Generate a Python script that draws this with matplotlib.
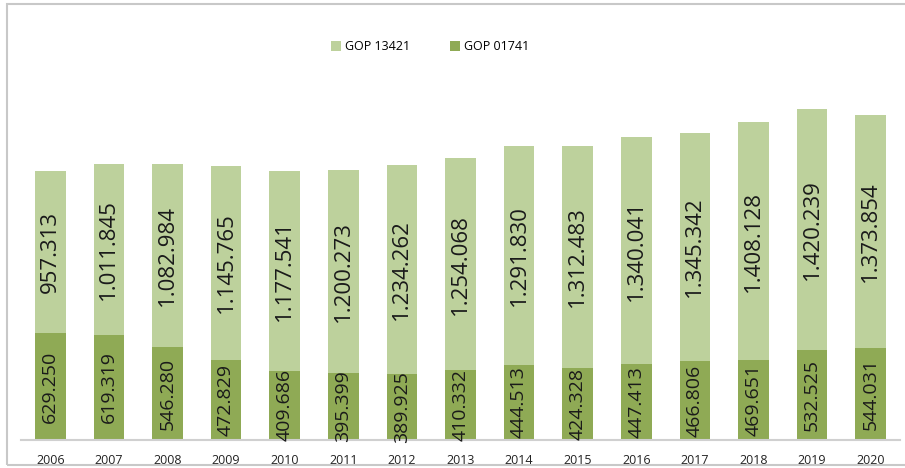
import matplotlib.pyplot as plt
from matplotlib.patches import Rectangle

# data
years = ["2006", "2007", "2008", "2009", "2010", "2011", "2012", "2013",
         "2014", "2015", "2016", "2017", "2018", "2019", "2020"]
gop_01741 = [629.250, 619.319, 546.280, 472.829, 409.686, 395.399, 389.925, 410.332,
             444.513, 424.328, 447.413, 466.806, 469.651, 532.525, 544.031]
gop_13421 = [957.313, 1011.845, 1082.984, 1145.765, 1177.541, 1200.273, 1234.262, 1254.068,
             1291.830, 1312.483, 1340.041, 1345.342, 1408.128, 1420.239, 1373.854]

dark = "#8faa55"
light = "#bdd19c"

def fmt(v):
    # dot as thousands separator, like the original labels
    return f"{v:,.3f}".replace(",", ".")

plt.rcParams['font.family'] = ['Open Sans', 'DejaVu Sans']

fig = plt.figure(figsize=(9.05, 4.68), dpi=100)
ax = fig.add_axes([0.0232, 0.0598, 0.9713, 0.897])

x = range(len(years))
b1 = ax.bar(x, gop_01741, width=0.52, color=dark, label="GOP 01741")
b2 = ax.bar(x, gop_13421, width=0.52, bottom=gop_01741, color=light, label="GOP 13421")

for i in x:
    ax.text(i, gop_01741[i] / 2, fmt(gop_01741[i]), rotation=90, ha="center", va="center",
            fontsize=14, color="#1a1a1a")
    ax.text(i, gop_01741[i] + gop_13421[i] / 2, fmt(gop_13421[i]), rotation=90,
            ha="center", va="center", fontsize=16, color="#1a1a1a")

ax.set_xlim(-0.5, len(years) - 0.5)
ax.set_ylim(0, 2478)
ax.set_xticks(list(x))
ax.set_xticklabels(years, fontsize=9, color="#222222")
ax.tick_params(axis="x", length=0, pad=10)
ax.set_yticks([])
for s in ["top", "left", "right"]:
    ax.spines[s].set_visible(False)
ax.spines["bottom"].set_color("#d0d0d0")
ax.spines["bottom"].set_linewidth(1.5)

fig.legend(handles=[b2, b1], labels=["GOP 13421", "GOP 01741"], loc="center",
           bbox_to_anchor=(0.475, 0.9), ncol=2, frameon=False, fontsize=9,
           handlelength=0.8, handleheight=0.8, columnspacing=3.2, handletextpad=0.3)

# outer border
fig.patches.append(Rectangle((7 / 905, 3 / 468), 905 / 905, 461 / 468, transform=fig.transFigure,
                             fill=False, edgecolor="#c8c8c8", linewidth=1.5))

plt.savefig("out.png", dpi=100)
plt.close()
